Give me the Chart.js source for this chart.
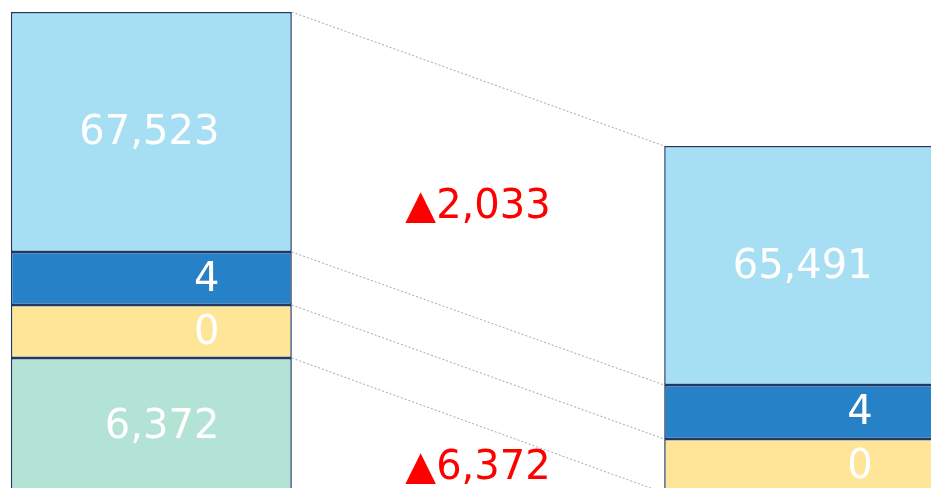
<!DOCTYPE html>
<html>
<head>
<meta charset="utf-8">
<script src="https://cdn.jsdelivr.net/npm/chart.js@4/dist/chart.umd.min.js"></script>
<style>
    html, body { margin: 0; padding: 0; background: #fff; overflow: hidden; width: 931px; height: 488px; }
    #wrap { position: absolute; left: -12px; top: 0; width: 980px; height: 493px; }
</style>
</head>
<body>
<div id="wrap"><canvas id="chart"></canvas></div>
<script>
// Categories: previous period, change column (labels only), current period
const categories = ['Previous', 'Change', 'Current'];

// Shown values per segment (stacked bottom to top)
const greenValues = [6372, null, 0];
const yellowValues = [0, null, 0];
const darkBlueValues = [4, null, 4];
const lightBlueValues = [67523, null, 65491];

// Block heights of the schematic drawing (the bars are not to scale)
const greenHeights = [135, null, 0];
const yellowHeights = [53, null, 54];
const darkBlueHeights = [53, null, 54];
const lightBlueHeights = [240, null, 239];

// Change labels between the bars, one per segment (null = none)
const changeValues = [-6372, null, null, -2033];

const yTop = 493;

const FONT = '"DejaVu Sans", Verdana, sans-serif';
const fmt = v => v.toLocaleString('en-US');

const segments = [
    { heights: greenHeights, values: greenValues, color: '#B3E3D4' },
    { heights: yellowHeights, values: yellowValues, color: '#FFE597' },
    { heights: darkBlueHeights, values: darkBlueValues, color: '#2681C6' },
    { heights: lightBlueHeights, values: lightBlueValues, color: '#A6DEF3' }
];

// connector lines + value labels
const bridgePlugin = {
    id: 'bridge',
    afterDatasetsDraw(chart) {
        const ctx = chart.ctx;
        const xScale = chart.scales.x;

        // dotted connectors from each segment top on the left to the right bar
        ctx.save();
        ctx.strokeStyle = '#A6A6A6';
        ctx.lineWidth = 1;
        ctx.setLineDash([2, 2]);
        segments.forEach((s, i) => {
            const meta = chart.getDatasetMeta(i);
            const a = meta.data[0], b = meta.data[2];
            ctx.beginPath();
            ctx.moveTo(a.x + a.width / 2, a.y);
            ctx.lineTo(b.x - b.width / 2, b.y);
            ctx.stroke();
        });
        ctx.restore();

        // white value labels, right aligned inside each block
        ctx.save();
        ctx.font = '40px ' + FONT;
        ctx.fillStyle = '#FFFFFF';
        ctx.textAlign = 'right';
        ctx.textBaseline = 'middle';
        segments.forEach((s, i) => {
            const meta = chart.getDatasetMeta(i);
            [0, 2].forEach(idx => {
                const el = meta.data[idx];
                if (Math.abs(el.base - el.y) < 1) return;
                ctx.fillText(fmt(s.values[idx]), el.x + 68, (el.y + el.base) / 2 + 2);
            });
        });

        // red change labels in the middle column
        ctx.fillStyle = '#FF0000';
        ctx.textAlign = 'center';
        const midX = xScale.getPixelForValue(1);
        segments.forEach((s, i) => {
            const v = changeValues[i];
            if (v === null) return;
            const meta = chart.getDatasetMeta(i);
            const a = meta.data[0], b = meta.data[2];
            const y = ((a.y + a.base) / 2 + (b.y + b.base) / 2) / 2 + 9;
            ctx.fillText((v < 0 ? '▲' : '') + fmt(Math.abs(v)), midX, y);
        });
        ctx.restore();
    }
};

new Chart(document.getElementById('chart'), {
    type: 'bar',
    data: {
        labels: categories,
        datasets: segments.map(s => ({
            data: s.heights,
            backgroundColor: s.color,
            borderColor: '#1F3864',
            borderWidth: 1.5,
            borderSkipped: false,
            categoryPercentage: 1,
            barPercentage: 0.86
        }))
    },
    options: {
        responsive: true,
        maintainAspectRatio: false,
        animation: false,
        layout: { padding: 0 },
        scales: {
            x: { stacked: true, display: false },
            y: { stacked: true, display: false, min: 0, max: yTop }
        },
        plugins: {
            legend: { display: false },
            tooltip: { enabled: false }
        }
    },
    plugins: [bridgePlugin]
});
</script>
</body>
</html>
